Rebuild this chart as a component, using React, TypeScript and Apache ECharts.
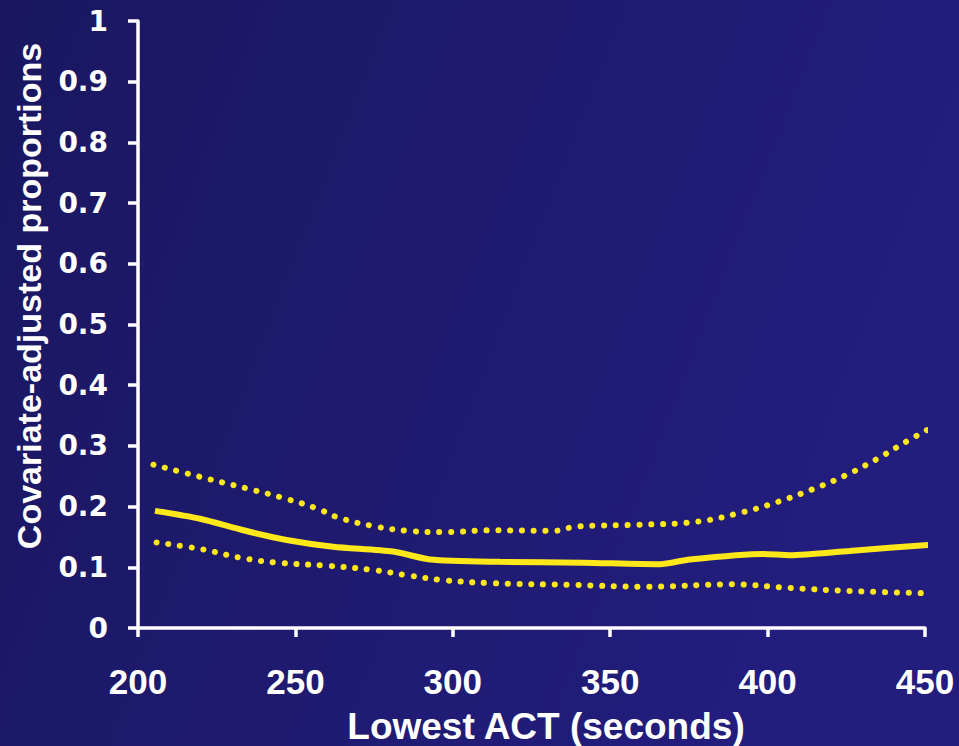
import React, { useEffect, useRef } from "react";
import * as echarts from "echarts";

// Estimated covariate-adjusted proportion (solid) by lowest ACT
const estimateX = [205.4, 219.7, 233.5, 247.2, 262, 281, 292.8, 315, 341.4, 365.8, 375.3, 398.6, 407, 426, 453.7];
const estimateY = [0.193, 0.18, 0.161, 0.145, 0.134, 0.126, 0.113, 0.109, 0.1075, 0.105, 0.113, 0.122, 0.12, 0.127, 0.138];

// Upper confidence bound (dotted)
const upperX = [204.9, 219.7, 234.5, 245.6, 256.8, 263.6, 274.7, 285.9, 297.5, 312.9, 331.9, 339.3, 358.4, 377.5, 392.3, 403.4, 414, 424.6, 434.6, 444.7, 451.3];
const upperY = [0.269, 0.249, 0.23, 0.215, 0.197, 0.182, 0.168, 0.16, 0.158, 0.161, 0.16, 0.167, 0.17, 0.175, 0.191, 0.208, 0.228, 0.251, 0.278, 0.309, 0.328];

// Lower confidence bound (dotted)
const lowerX = [205.9, 221, 232.2, 243.5, 258.9, 273.9, 285.4, 296.7, 311.8, 338.3, 361.3, 388.3, 407.1, 426.2, 452.6];
const lowerY = [0.141, 0.129, 0.116, 0.108, 0.103, 0.096, 0.087, 0.079, 0.074, 0.071, 0.068, 0.072, 0.066, 0.061, 0.057];

const xTicks = { min: 200, max: 450, interval: 50 };
const yTicks = { min: 0, max: 1, interval: 0.1 };

const xTitle = "Lowest ACT (seconds)";
const yTitle = "Covariate-adjusted proportions";

const zip = (xs: number[], ys: number[]) => xs.map((x, i) => [x, ys[i]]);

const YELLOW = "#ffe81a";
const WHITE = "#ffffff";

export default function App() {
  const ref = useRef<HTMLDivElement>(null);

  useEffect(() => {
    if (!ref.current) return;
    const chart = echarts.init(ref.current, null, { renderer: "svg" });
    chart.setOption({
      animation: false,
      backgroundColor: {
        type: "linear",
        x: 0,
        y: 0,
        x2: 1,
        y2: 0.3,
        colorStops: [
          { offset: 0, color: "#1a1760" },
          { offset: 1, color: "#231d7e" },
        ],
      },
      grid: { left: 138, right: 34, top: 21, bottom: 118, containLabel: false },
      xAxis: {
        type: "value",
        min: xTicks.min,
        max: xTicks.max,
        interval: xTicks.interval,
        axisLine: { show: true, lineStyle: { color: WHITE, width: 3.5 } },
        axisTick: { show: true, inside: false, length: 9, lineStyle: { color: WHITE, width: 3.5 } },
        axisLabel: {
          color: WHITE,
          fontFamily: "Liberation Sans",
          fontWeight: "bold",
          fontSize: 35,
          margin: 36,
          showMinLabel: true,
          showMaxLabel: true,
        },
        splitLine: { show: false },
      },
      yAxis: {
        type: "value",
        min: yTicks.min,
        max: yTicks.max,
        interval: yTicks.interval,
        axisLine: { show: true, lineStyle: { color: WHITE, width: 3.5 } },
        axisTick: { show: true, inside: false, length: 10, lineStyle: { color: WHITE, width: 3.5 } },
        axisLabel: {
          color: WHITE,
          fontFamily: "DejaVu Sans",
          fontWeight: "bold",
          fontSize: 28,
          margin: 30,
          formatter: (v: number) => String(+v.toFixed(1)),
        },
        splitLine: { show: false },
      },
      graphic: [
        {
          type: "text",
          x: 546,
          y: 726,
          style: {
            text: xTitle,
            fill: WHITE,
            fontFamily: "Liberation Sans",
            fontWeight: "bold",
            fontSize: 37,
            textAlign: "center",
            textVerticalAlign: "middle",
          },
        },
        {
          type: "text",
          x: 29,
          y: 296,
          rotation: Math.PI / 2,
          style: {
            text: yTitle,
            fill: WHITE,
            fontFamily: "Liberation Sans",
            fontWeight: "bold",
            fontSize: 34,
            textAlign: "center",
            textVerticalAlign: "middle",
          },
        },
      ],
      series: [
        {
          name: "Upper",
          type: "line",
          data: zip(upperX, upperY),
          smooth: 0.4,
          showSymbol: false,
          clip: false,
          lineStyle: { color: YELLOW, width: 6, type: [0.1, 11.7], cap: "round" },
        },
        {
          name: "Lower",
          type: "line",
          data: zip(lowerX, lowerY),
          smooth: 0.4,
          showSymbol: false,
          clip: false,
          lineStyle: { color: YELLOW, width: 6, type: [0.1, 11.7], cap: "round" },
        },
        {
          name: "Estimate",
          type: "line",
          data: zip(estimateX, estimateY),
          smooth: 0.25,
          showSymbol: false,
          clip: false,
          lineStyle: { color: YELLOW, width: 6 },
        },
      ],
    });
    return () => chart.dispose();
  }, []);

  return (
    <div
      ref={ref}
      style={{ position: "absolute", left: 0, top: 0, width: 959, height: 746 }}
    />
  );
}
